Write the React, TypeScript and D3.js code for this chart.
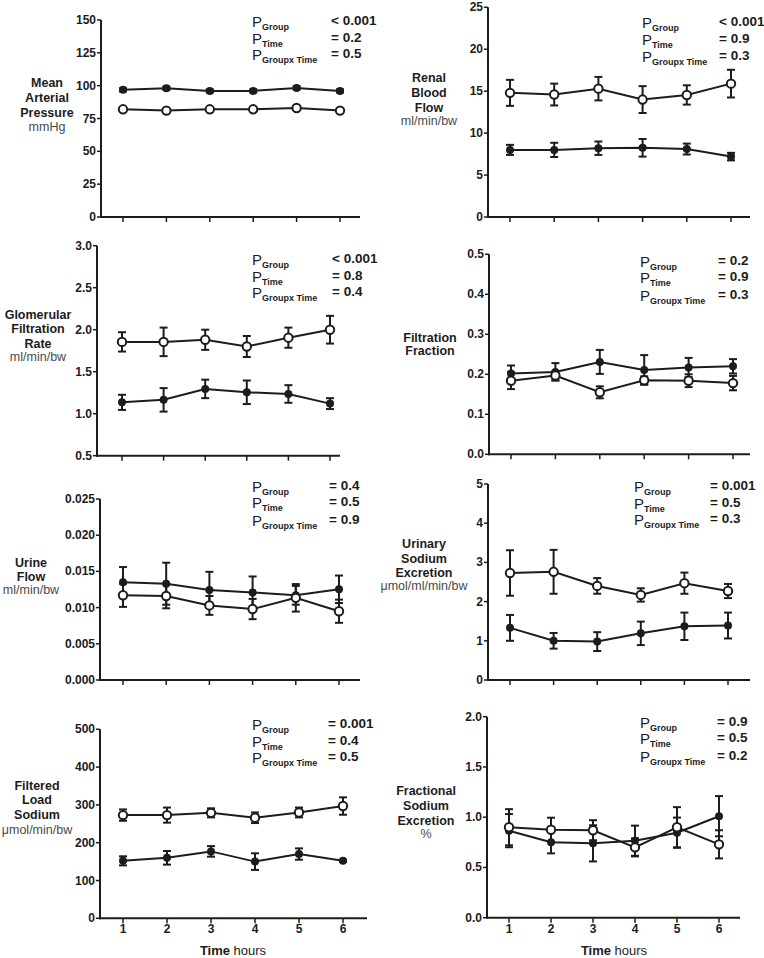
import React from "react";
import * as d3 from "d3";

const hours = [1, 2, 3, 4, 5, 6];

// Mean Arterial Pressure
const mapFilled = [96.8, 98, 96, 96, 98.3, 96];
const mapFilledErr = [1.2, 1.2, 1.2, 1.2, 1.2, 1.2];
const mapOpen = [82, 81, 82, 82, 83, 81];
const mapOpenErr = [1.2, 1.2, 1.2, 1.2, 1.2, 1.2];
const mapTicks = [0, 25, 50, 75, 100, 125, 150];

// Renal Blood Flow
const rbfFilled = [8.0, 8.0, 8.2, 8.25, 8.1, 7.2];
const rbfFilledErr = [0.6, 0.85, 0.8, 1.05, 0.65, 0.45];
const rbfOpen = [14.8, 14.6, 15.3, 14.0, 14.55, 15.9];
const rbfOpenErr = [1.55, 1.3, 1.4, 1.6, 1.15, 1.65];
const rbfTicks = [0, 5, 10, 15, 20, 25];

// Glomerular Filtration Rate
const gfrFilled = [1.135, 1.165, 1.295, 1.255, 1.235, 1.12];
const gfrFilledErr = [0.09, 0.14, 0.11, 0.14, 0.105, 0.065];
const gfrOpen = [1.855, 1.855, 1.88, 1.8, 1.905, 2.0];
const gfrOpenErr = [0.115, 0.17, 0.12, 0.125, 0.12, 0.165];
const gfrTicks = [0.5, 1.0, 1.5, 2.0, 2.5, 3.0];

// Filtration Fraction
const ffFilled = [0.202, 0.206, 0.231, 0.211, 0.217, 0.22];
const ffFilledErr = [0.02, 0.022, 0.03, 0.037, 0.024, 0.018];
const ffOpen = [0.184, 0.197, 0.155, 0.185, 0.184, 0.178];
const ffOpenErr = [0.021, 0.011, 0.015, 0.01, 0.016, 0.018];
const ffTicks = [0.0, 0.1, 0.2, 0.3, 0.4, 0.5];

// Urine Flow
const ufFilled = [0.0135, 0.0133, 0.01244, 0.0121, 0.0117, 0.01253];
const ufFilledErr = [0.0021, 0.0029, 0.0025, 0.0022, 0.0013, 0.0019];
const ufOpen = [0.0117, 0.0116, 0.0103, 0.0098, 0.01135, 0.0095];
const ufOpenErr = [0.0016, 0.0017, 0.0013, 0.0014, 0.0019, 0.0016];
const ufTicks = [0, 0.005, 0.01, 0.015, 0.02, 0.025];

// Urinary Sodium Excretion
const unaFilled = [1.33, 1.0, 0.98, 1.19, 1.37, 1.39];
const unaFilledErr = [0.33, 0.2, 0.24, 0.3, 0.35, 0.33];
const unaOpen = [2.73, 2.76, 2.4, 2.17, 2.47, 2.27];
const unaOpenErr = [0.58, 0.56, 0.2, 0.17, 0.27, 0.18];
const unaTicks = [0, 1, 2, 3, 4, 5];

// Filtered Load Sodium
const flFilled = [152, 160, 177, 150, 170, 152];
const flFilledErr = [12, 18, 14, 22, 15, 3];
const flOpen = [273, 273, 279, 266, 280, 297];
const flOpenErr = [15, 20, 12, 14, 13, 23];
const flTicks = [0, 100, 200, 300, 400, 500];

// Fractional Sodium Excretion
const feFilled = [0.866, 0.75, 0.74, 0.766, 0.846, 1.01];
const feFilledErr = [0.165, 0.11, 0.18, 0.15, 0.15, 0.2];
const feOpen = [0.9, 0.875, 0.87, 0.7, 0.9, 0.73];
const feOpenErr = [0.18, 0.12, 0.1, 0.09, 0.2, 0.14];
const feTicks = [0, 0.5, 1.0, 1.5, 2.0];

const pGroup = ["< 0.001", "< 0.001", "< 0.001", "= 0.2", "= 0.4", "= 0.001", "= 0.001", "= 0.9"];
const pTime = ["= 0.2", "= 0.9", "= 0.8", "= 0.9", "= 0.5", "= 0.5", "= 0.4", "= 0.5"];
const pInter = ["= 0.5", "= 0.3", "= 0.4", "= 0.3", "= 0.9", "= 0.3", "= 0.5", "= 0.2"];

const labelLines = [
  ["Mean", "Arterial", "Pressure"],
  ["Renal", "Blood", "Flow"],
  ["Glomerular", "Filtration", "Rate"],
  ["Filtration", "Fraction"],
  ["Urine", "Flow"],
  ["Urinary", "Sodium", "Excretion"],
  ["Filtered", "Load", "Sodium"],
  ["Fractional", "Sodium", "Excretion"],
];
const units = ["mmHg", "ml/min/bw", "ml/min/bw", "", "ml/min/bw", "\u03bcmol/ml/min/bw", "\u03bcmol/min/bw", "%"];

const series = [
  { f: mapFilled, fe: mapFilledErr, o: mapOpen, oe: mapOpenErr, ticks: mapTicks, fmt: "d" },
  { f: rbfFilled, fe: rbfFilledErr, o: rbfOpen, oe: rbfOpenErr, ticks: rbfTicks, fmt: "d" },
  { f: gfrFilled, fe: gfrFilledErr, o: gfrOpen, oe: gfrOpenErr, ticks: gfrTicks, fmt: ".1f" },
  { f: ffFilled, fe: ffFilledErr, o: ffOpen, oe: ffOpenErr, ticks: ffTicks, fmt: ".1f" },
  { f: ufFilled, fe: ufFilledErr, o: ufOpen, oe: ufOpenErr, ticks: ufTicks, fmt: ".3f" },
  { f: unaFilled, fe: unaFilledErr, o: unaOpen, oe: unaOpenErr, ticks: unaTicks, fmt: "d" },
  { f: flFilled, fe: flFilledErr, o: flOpen, oe: flOpenErr, ticks: flTicks, fmt: "d" },
  { f: feFilled, fe: feFilledErr, o: feOpen, oe: feOpenErr, ticks: feTicks, fmt: ".1f" },
];

// pixel layout of each panel
const layout = [
  { ax: 101, x1: 123, x6: 340, xEnd: 360, yT: 20, yB: 217, lx: 47, lys: [87, 102, 117, 131], px: 252, vx: 331, pys: [27, 43.5, 60] },
  { ax: 488, x1: 510, x6: 731, xEnd: 750, yT: 7.3, yB: 217, lx: 429, lys: [82, 97, 112, 125], px: 642, vx: 719, pys: [28, 45, 61.5] },
  { ax: 97, x1: 122, x6: 330, xEnd: 340, yT: 245.7, yB: 455.7, lx: 38, lys: [319, 333, 348, 361], px: 252, vx: 332, pys: [265, 282, 298] },
  { ax: 489, x1: 511, x6: 733, xEnd: 750, yT: 254.3, yB: 454.3, lx: 430, lys: [341.7, 355], px: 640, vx: 718, pys: [266.7, 283, 301] },
  { ax: 100, x1: 123, x6: 339, xEnd: 360, yT: 499, yB: 680, lx: 31, lys: [567, 581, 594], px: 252, vx: 329, pys: [491.7, 508, 525.7] },
  { ax: 488, x1: 510, x6: 728, xEnd: 750, yT: 484, yB: 680, lx: 424, lys: [548, 562.7, 577, 590], px: 634, vx: 710, pys: [492.3, 509, 525] },
  { ax: 100, x1: 123, x6: 343, xEnd: 367, yT: 729.3, yB: 918.3, lx: 37, lys: [790, 804, 819, 834], px: 252, vx: 328, pys: [730, 746.7, 763.3] },
  { ax: 487, x1: 509, x6: 719, xEnd: 740, yT: 716.7, yB: 917.7, lx: 426, lys: [795, 810, 825, 838], px: 640, vx: 717, pys: [727.7, 744.3, 761.7] },
];

const INK = "#1c1c1c";
const FONT = "'Liberation Sans', Arial, Helvetica, sans-serif";

function Panel({ idx }: { idx: number }) {
  const L = layout[idx];
  const S = series[idx];
  const x = d3.scaleLinear().domain([1, 6]).range([L.x1, L.x6]);
  const ticks = S.ticks;
  const y = d3.scaleLinear().domain([ticks[0], ticks[ticks.length - 1]]).range([L.yB, L.yT]);
  const fmt = d3.format(S.fmt);
  const line = d3.line<number>().x((_, i) => x(hours[i])).y((v) => y(v));
  const bottomRow = idx >= 6;
  const cap = 4;

  const errBars = (vals: number[], errs: number[], key: string) =>
    vals.map((v, i) => {
      const cx = x(hours[i]);
      const t = y(v + errs[i]);
      const b = y(v - errs[i]);
      return (
        <g key={key + i} stroke={INK} strokeWidth={2}>
          <line x1={cx} x2={cx} y1={t} y2={b} />
          <line x1={cx - cap} x2={cx + cap} y1={t} y2={t} />
          <line x1={cx - cap} x2={cx + cap} y1={b} y2={b} />
        </g>
      );
    });

  const unit = units[idx];
  const lines = labelLines[idx];

  return (
    <g>
      {/* axes */}
      <line x1={L.ax} x2={L.ax} y1={L.yT} y2={L.yB + 1} stroke={INK} strokeWidth={2} />
      <line x1={L.ax - 1} x2={L.xEnd} y1={L.yB} y2={L.yB} stroke={INK} strokeWidth={2} />
      {ticks.map((t) => (
        <g key={"yt" + t}>
          <line x1={L.ax - 4} x2={L.ax} y1={y(t)} y2={y(t)} stroke={INK} strokeWidth={1.5} />
          <text x={L.ax - 5} y={y(t) + 4} textAnchor="end" fontSize={12} fontWeight="bold" fill={INK} fontFamily={FONT}>
            {fmt(t)}
          </text>
        </g>
      ))}
      {hours.map((h) => (
        <g key={"xt" + h}>
          <line x1={x(h)} x2={x(h)} y1={L.yB} y2={L.yB + 5} stroke={INK} strokeWidth={1.5} />
          {bottomRow && (
            <text x={x(h)} y={933} textAnchor="middle" fontSize={12} fontWeight="bold" fill={INK} fontFamily={FONT}>
              {h}
            </text>
          )}
        </g>
      ))}
      {bottomRow && (
        <text x={(L.x1 + L.x6) / 2} y={955} textAnchor="middle" fontSize={13} fill={INK} fontFamily={FONT}>
          <tspan fontWeight="bold">Time</tspan>
          <tspan> hours</tspan>
        </text>
      )}
      {/* y label */}
      {lines.map((s, i) => (
        <text key={"lab" + i} x={L.lx} y={L.lys[i]} textAnchor="middle" fontSize={12.5} fontWeight="bold" fill={INK} fontFamily={FONT}>
          {s}
        </text>
      ))}
      {unit && (
        <text x={L.lx} y={L.lys[lines.length]} textAnchor="middle" fontSize={12.5} fill="#4a4a4a" fontFamily={FONT}>
          {unit}
        </text>
      )}
      {/* p-values */}
      {[["Group", pGroup[idx]], ["Time", pTime[idx]], ["Groupx Time", pInter[idx]]].map(([sub, val], i) => (
        <g key={"p" + i} fontFamily={FONT} fill={INK}>
          <text x={L.px} y={L.pys[i]} fontSize={15}>
            P<tspan fontSize={9} fontWeight="bold" dy={3}>{sub}</tspan>
          </text>
          <text x={L.vx} y={L.pys[i] - 2} fontSize={13.5} fontWeight="bold">
            {val}
          </text>
        </g>
      ))}
      {/* data: filled series */}
      {errBars(S.f, S.fe, "fe")}
      <path d={line(S.f) || ""} fill="none" stroke={INK} strokeWidth={2} />
      {/* open series */}
      {errBars(S.o, S.oe, "oe")}
      <path d={line(S.o) || ""} fill="none" stroke={INK} strokeWidth={2} />
      {S.f.map((v, i) => (
        <circle key={"fc" + i} cx={x(hours[i])} cy={y(v)} r={4} fill={INK} />
      ))}
      {S.o.map((v, i) => (
        <circle key={"oc" + i} cx={x(hours[i])} cy={y(v)} r={4.2} fill="#fff" stroke={INK} strokeWidth={2} />
      ))}
    </g>
  );
}

export default function App() {
  return (
    <svg width={764} height={958} style={{ position: "absolute", left: 0, top: 0, background: "#fff" }}>
      <rect width={764} height={958} fill="#fff" />
      {layout.map((_, i) => (
        <Panel key={i} idx={i} />
      ))}
    </svg>
  );
}
